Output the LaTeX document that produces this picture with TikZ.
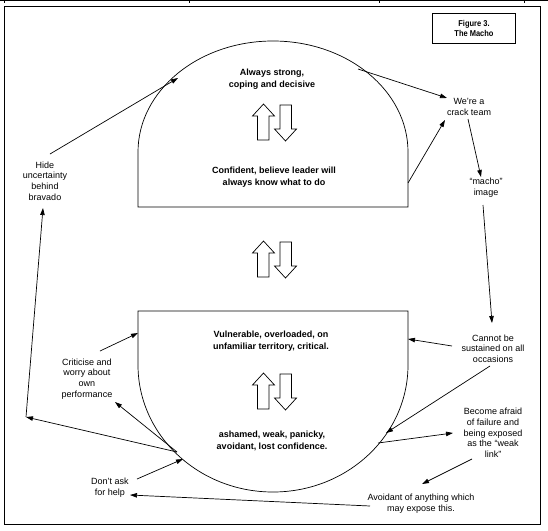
\documentclass[tikz,border=0pt]{standalone}
\usepackage{fontspec}
\setmainfont{Liberation Sans}
\usetikzlibrary{arrows.meta,calc}
\begin{document}
\begin{tikzpicture}[x=1pt,y=-1pt,line width=0.7pt,
  arr/.style={-{Triangle[length=7pt,width=4.5pt]}},
  lbl/.style={align=center,font=\fontsize{9}{10.7}\selectfont,inner sep=0pt},
  bld/.style={align=center,font=\bfseries\fontsize{9}{11.5}\selectfont,inner sep=0pt},
  hollow/.style={draw,fill=white,line width=0.7pt},
  updown/.pic={
    \draw[hollow] (-11,0) -- (0,12) -- (-5.5,12) -- (-5.5,36) -- (-17,36) -- (-17,12) -- (-22,12) -- cycle;
    \draw[hollow] (5.5,1) -- (17,1) -- (17,25) -- (22,25) -- (11,37) -- (0,25) -- (5.5,25) -- cycle;
  }]
\useasboundingbox (0,0) rectangle (548,530);
% top edge remnant
\draw[line width=0.5pt] (0,0.4) -- (548,0.4);
\foreach \tx in {4,189,379,524} \draw[line width=0.5pt] (\tx,0) -- (\tx,2.5);
% frame
\draw[line width=1pt] (4,6) rectangle (540,524);
% title box
\draw (432,13) rectangle (515,43);
\node[bld,font=\bfseries\fontsize{8.5}{9.8}\selectfont] (title) at (474,28.5) {\scalebox{0.88}[1]{Figure 3.}\\\scalebox{0.88}[1]{The Macho}};

% upper shape
\draw (138,207) -- (138,152) arc[start angle=180,end angle=360,x radius=135,y radius=111] -- (408,207) -- cycle;
% lower shape
\draw (138,311) -- (408,311) -- (408,365) arc[start angle=0,end angle=180,x radius=135,y radius=127] -- cycle;

\pic at (274.5,104) {updown};
\pic at (274.5,241) {updown};
\pic at (274.5,373) {updown};

\node[bld] (strong) at (272,79) {Always strong,\\coping and decisive};
\node[bld] (conf) at (274,177) {Confident, believe leader will\\always know what to do};
\node[bld] (vuln) at (271,341) {Vulnerable, overloaded, on\\unfamiliar territory, critical.};
\node[bld] (asham) at (272,441) {ashamed, weak, panicky,\\avoidant, lost confidence.};

% labels
\node[lbl] (hide) at (45,181) {Hide\\uncertainty\\behind\\bravado};
\node[lbl] (crit) at (87,379) {Criticise and\\worry about\\own\\performance};
\node[lbl] (dont) at (110,487.5) {Don’t ask\\for help};
\node[lbl] (avoid) at (421,503.5) {Avoidant of anything which\\may expose this.};
\node[lbl] (become) at (493,433) {Become afraid\\of failure and\\being exposed\\as the “weak\\link”};
\node[lbl] (cannot) at (493,348.5) {Cannot be\\sustained on all\\occasions};
\node[lbl] (macho) at (486,188) {“macho”\\image};
\node[lbl] (crack) at (469,107) {We’re a\\crack team};

% connector ends
\coordinate (uArcL) at (178,78);
\coordinate (uArcR) at (358,69);
\coordinate (uSideR) at (408,183);
\coordinate (lSideL) at (138,333);
\coordinate (lSideR) at (408,339);
\coordinate (lArcL) at (177,452);
\coordinate (lArcD) at (183,459);
\coordinate (lArcR1) at (386,433);
\coordinate (lArcR2) at (378,443);
\coordinate (hideA) at (50,154);
\coordinate (hideB) at (43,208);
\coordinate (corner) at (26,417);
\coordinate (critA) at (115,402);
\coordinate (critB) at (100,351);
\coordinate (dontA) at (137,479);
\coordinate (helpB) at (130,495);
\coordinate (avoidA) at (370,506);
\coordinate (avoidT) at (422,484);
\coordinate (becomeA) at (472,459);
\coordinate (becomeT) at (453,433);
\coordinate (cannotA) at (490,366);
\coordinate (cannotB) at (452,346);
\coordinate (cannotT) at (492,323);
\coordinate (machoA) at (483,205);
\coordinate (machoT) at (481,177);
\coordinate (crackA) at (468,119);
\coordinate (crackT1) at (447,98);
\coordinate (crackT2) at (445,120);

% connectors
\draw[arr] (hideA) -- (uArcL);
\draw[arr] (uArcR) -- (crackT1);
\draw[arr] (uSideR) -- (crackT2);
\draw[arr] (crackA) -- (machoT);
\draw[arr] (machoA) -- (cannotT);
\draw[arr] (cannotB) -- (lSideR);
\draw[arr] (cannotA) -- (lArcR1);
\draw[arr] (lArcR2) -- (becomeT);
\draw[arr] (becomeA) -- (avoidT);
\draw[arr] (avoidA) -- (helpB);
\draw[arr] (dontA) -- (lArcD);
\draw[arr] (lArcL) -- (critA);
\draw[arr] (critB) -- (lSideL);
\draw[arr] (lArcL) -- (corner);
\draw[arr] (corner) -- (hideB);
\end{tikzpicture}
\end{document}
